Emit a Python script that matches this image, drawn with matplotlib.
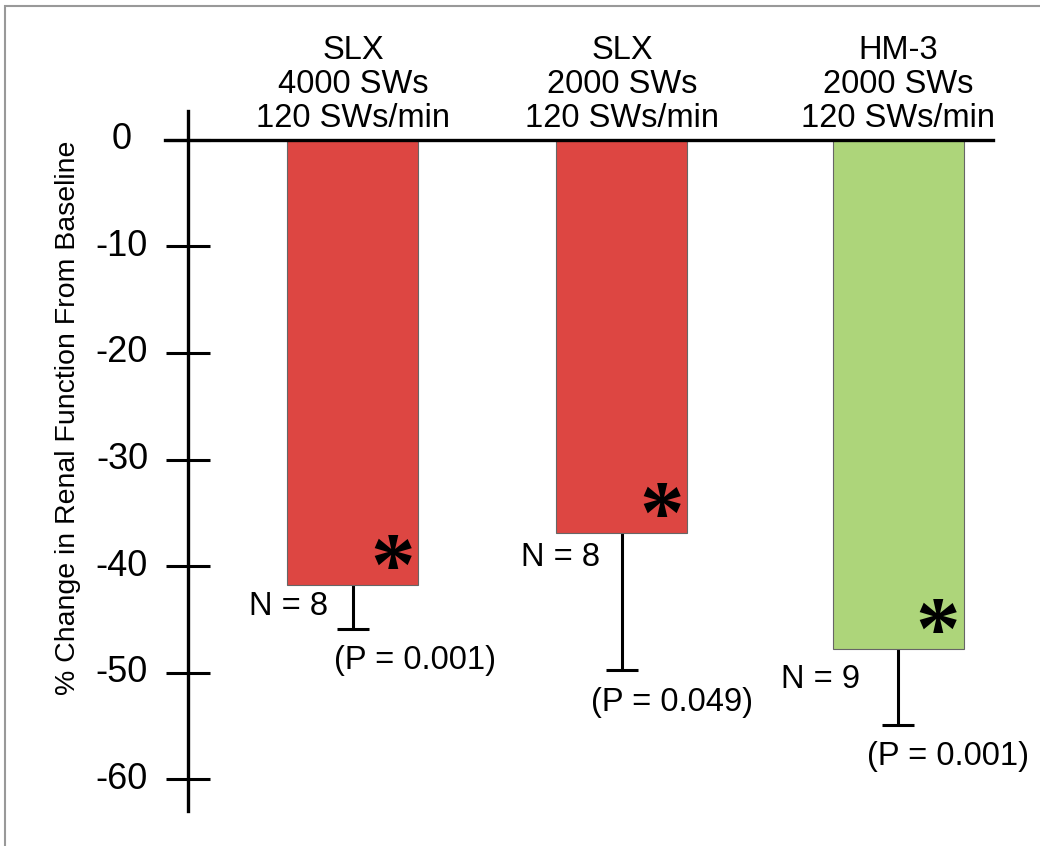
import numpy as np
import matplotlib
matplotlib.use("Agg")
import matplotlib.pyplot as plt
from matplotlib.patches import Rectangle

plt.rcParams['font.family'] = ['Liberation Sans', 'DejaVu Sans']

# ---- data ----
groups = ['SLX\n4000 SWs\n120 SWs/min',
          'SLX\n2000 SWs\n120 SWs/min',
          'HM-3\n2000 SWs\n120 SWs/min']
change = [-41.8, -36.9, -47.8]     # % change from baseline
err_low = [4.1, 12.9, 7.1]         # lower error bar length
n_labels = ['N = 8', 'N = 8', 'N = 9']
p_labels = ['(P = 0.001)', '(P = 0.049)', '(P = 0.001)']
yticks = [0, -10, -20, -30, -40, -50, -60]
bar_colors = ['#dd4642', '#dd4642', '#add57a']

# ---- layout ----
xpos = np.array([0, 1, 2.026])
W, H = 1040, 846
fig = plt.figure(figsize=(W / 100, H / 100), dpi=100)
ax = fig.add_axes([188 / W, 1 - 811 / H, 812 / W, 700 / H])
ax.set_xlim(-0.613, 2.405)
ax.set_ylim(-63.0, 2.72)

for s in ['top', 'right', 'bottom']:
    ax.spines[s].set_visible(False)
ax.spines['left'].set_linewidth(2.4)
ax.set_xticks([])
ax.set_yticks(yticks)
ax.set_yticklabels([])
ax.tick_params(axis='y', direction='inout', length=31, width=2.2)

fs = 23.5
ax.bar(xpos, change, width=0.487, color=bar_colors, edgecolor='#666666',
       linewidth=0.8, zorder=2)
# lower error bars only, cap at the bottom end
lows = np.array(change) - np.array(err_low)
ax.vlines(xpos, change, lows, color='black', lw=2.2, zorder=1)
ax.plot(xpos, lows, ls='none', marker='_', ms=23, mew=2.2, color='black',
        zorder=1)

# zero line across
ax.plot([-0.699, 2.379], [0, 0], color='black', lw=2.4, clip_on=False, zorder=3)

# tick labels, centred
ytr = ax.get_yaxis_transform()
for t in yticks:
    ax.text(-0.0813, t, str(t), transform=ytr, ha='center', va='center',
            fontsize=26)

ax.text(-0.148, 0.5 - (418 - 461) / 700, '% Change in Renal Function From Baseline',
        transform=ax.transAxes, rotation=90, ha='center', va='center',
        fontsize=20.5)

n_dx = [-0.093, -0.082, -0.141]
n_dy = [-2.0, -2.3, -2.9]
p_dx = [0.23, 0.186, 0.186]
for i, x in enumerate(xpos):
    ax.text(x, 5.2, groups[i], ha='center', va='center', fontsize=fs,
            linespacing=1.12, clip_on=False)
    ax.text(x + 0.147, change[i] + 1.3, '*', ha='center', va='center',
            fontsize=64, fontweight='bold', family='Liberation Serif')
    ax.text(x + n_dx[i], change[i] + n_dy[i], n_labels[i], ha='right',
            va='center', fontsize=fs)
    ax.text(x + p_dx[i], change[i] - err_low[i] - 3.0, p_labels[i],
            ha='center', va='center', fontsize=fs)

# grey frame around the picture
fig.patches.append(Rectangle((5 / W, -0.05), 1.1, 1 - 6 / H + 0.05,
                             transform=fig.transFigure, fill=False,
                             edgecolor='#999999', lw=1.5))

fig.savefig('out.png', dpi=100)
